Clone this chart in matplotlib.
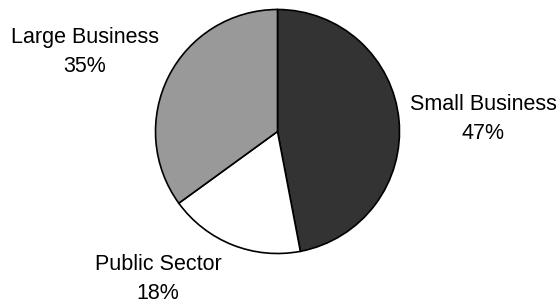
import matplotlib

matplotlib.use("Agg")
import matplotlib.pyplot as plt  # noqa: E402

# Slices in drawing order, clockwise from 12 o'clock
labels = ["Small Business", "Public Sector", "Large Business"]
shares = [47, 18, 35]
colors = ["#333333", "#ffffff", "#999999"]

# label anchor points (pixel coords of the 560x305 canvas, y down)
label_xy = [(483, 119), (158, 279), (85, 52)]

W, H = 560, 305
fig = plt.figure(figsize=(W / 100, H / 100), dpi=100)
ax = fig.add_axes([0, 0, 1, 1])

ax.pie(shares, colors=colors, startangle=90, counterclock=False,
       center=(277.5, H - 131.5), radius=122, frame=True,
       wedgeprops={"edgecolor": "black", "linewidth": 1.2})
ax.set_xlim(0, W)
ax.set_ylim(0, H)
ax.set_aspect("equal")
ax.axis("off")

for name, pct, (x, y) in zip(labels, shares, label_xy):
    ax.text(x, H - y, f"{name}\n{pct}%", ha="center", va="center",
            fontsize=15.5, family="Liberation Sans", linespacing=1.5)

fig.savefig("out.png", dpi=100)
